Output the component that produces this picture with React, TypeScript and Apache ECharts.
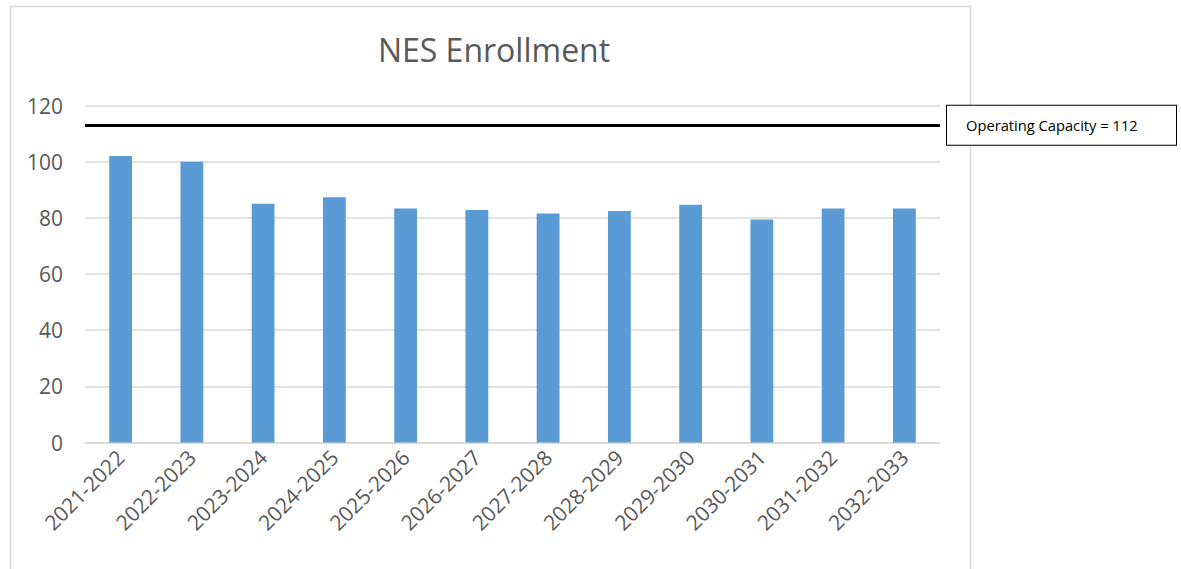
import React, { useEffect, useRef } from "react";
import * as echarts from "echarts";

const title = "NES Enrollment";
const categories = [
  "2021-2022", "2022-2023", "2023-2024", "2024-2025", "2025-2026", "2026-2027",
  "2027-2028", "2028-2029", "2029-2030", "2030-2031", "2031-2032", "2032-2033",
];
const enrollment = [102, 100, 85, 87.3, 83.3, 82.8, 81.5, 82.4, 84.7, 79.4, 83.3, 83.3];
const capacityValue = 113;
const capacityLabel = "Operating Capacity = 112";
const yMin = 0;
const yMax = 120;
const yInterval = 20;

const FONT = "'Open Sans', 'Noto Sans', sans-serif";
const GREY = "#595959";

export default function App() {
  const ref = useRef<HTMLDivElement>(null);
  useEffect(() => {
    if (!ref.current) return;
    const chart = echarts.init(ref.current, null, { renderer: "svg" });
    chart.setOption({
      animation: false,
      backgroundColor: "#ffffff",
      textStyle: { fontFamily: FONT },
      title: {
        text: title,
        left: 489,
        textAlign: "center",
        top: 28,
        textStyle: { fontFamily: FONT, fontSize: 32, fontWeight: "normal", color: GREY },
      },
      graphic: [
        {
          type: "rect",
          shape: { x: 10.5, y: 6.5, width: 960, height: 620 },
          style: { fill: "none", stroke: "#d9d9d9", lineWidth: 1.5 },
          silent: true,
        },
      ],
      grid: { left: 85, right: 241, top: 105.5, bottom: 126.5, containLabel: false },
      xAxis: {
        type: "category",
        data: categories,
        axisLine: { show: true, lineStyle: { color: "#d9d9d9", width: 1.5 } },
        axisTick: { show: false },
        axisLabel: {
          rotate: 45,
          interval: 0,
          margin: 11,
          fontSize: 21,
          color: GREY,
          fontFamily: FONT,
        },
      },
      yAxis: {
        type: "value",
        min: yMin,
        max: yMax,
        interval: yInterval,
        axisLine: { show: false },
        axisTick: { show: false },
        splitLine: { lineStyle: { color: "#d9d9d9", width: 1.5 } },
        axisLabel: { fontSize: 21, color: GREY, margin: 22, fontFamily: FONT },
      },
      series: [
        {
          type: "bar",
          data: enrollment,
          barWidth: "32%",
          itemStyle: { color: "#5b9bd5" },
          markLine: {
            silent: true,
            symbol: ["none", "none"],
            lineStyle: { color: "#000000", width: 3, type: "solid" },
            data: [{ yAxis: capacityValue }],
            label: {
              show: true,
              position: "end",
              distance: 7,
              formatter: capacityLabel,
              color: "#000000",
              fontSize: 14.7,
              fontFamily: FONT,
              width: 173,
              backgroundColor: "#ffffff",
              borderColor: "#000000",
              borderWidth: 1,
              padding: [12, 37, 12, 19],
            },
          },
        },
      ],
    });
    return () => chart.dispose();
  }, []);
  return (
    <div
      ref={ref}
      style={{ position: "fixed", left: 0, top: 0, width: 1181, height: 569 }}
    />
  );
}
